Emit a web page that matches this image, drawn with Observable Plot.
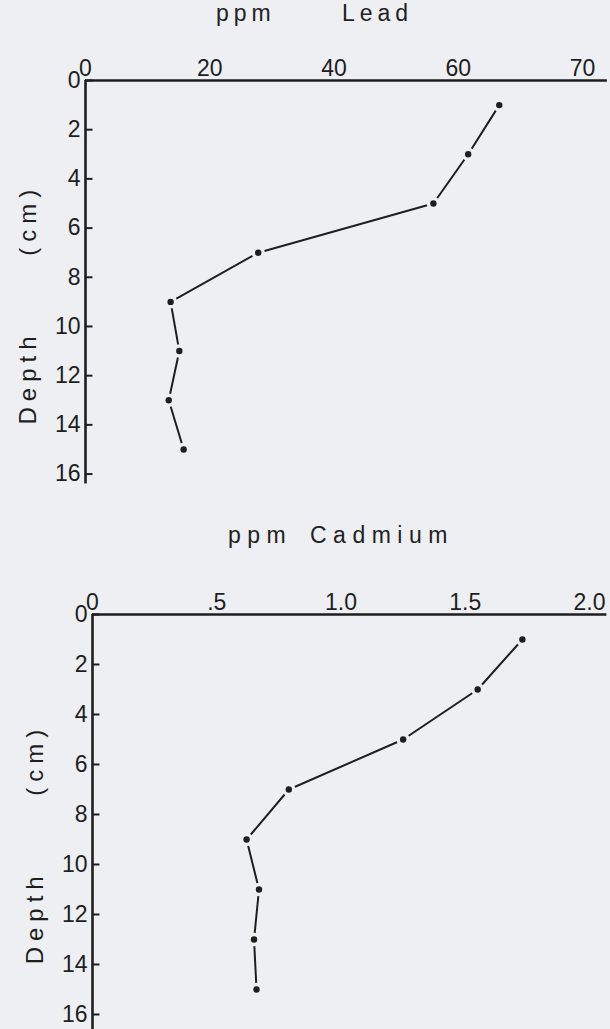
<!DOCTYPE html>
<html><head><meta charset="utf-8">
<script src="https://cdn.jsdelivr.net/npm/d3@7"></script>
<script src="https://cdn.jsdelivr.net/npm/@observablehq/plot@0.6"></script>
<style>
body{margin:0;background:#edeff2;width:610px;height:1029px;overflow:hidden;font-family:"Liberation Sans",Arial,sans-serif;color:#222}
.title{position:relative;height:26px;font-size:23px;letter-spacing:5px;line-height:26px}
#t2{letter-spacing:6.5px}
.title span{position:absolute;top:0}
svg{display:block}
</style></head><body>
<div class="title" id="t1"></div>
<div id="c1"></div>
<div class="title" id="t2"></div>
<div id="c2"></div>
<script>
const depths = [1, 3, 5, 7, 9, 11, 13, 15];
const leadPpm = [63.3, 60.8, 56.0, 27.8, 13.7, 15.1, 13.4, 15.8];
const cadmiumPpm = [1.73, 1.55, 1.25, 0.79, 0.62, 0.67, 0.65, 0.66];
const depthTicks = [0, 2, 4, 6, 8, 10, 12, 14, 16];
const leadTicks = [0, 20, 40, 60, 70];
const cadmiumTicks = [0, 0.5, 1.0, 1.5, 2.0];
const cadmiumTickLabels = ["0", ".5", "1.0", "1.5", "2.0"];
const leadTitle = ["ppm", "Lead"];
const cadmiumTitle = ["ppm", "Cadmium"];
const yLabel = "Depth (cm)";

const ink = "#1e1e1e", bg = "#edeff2";

function title(id, words, lefts) {
  const el = document.getElementById(id);
  words.forEach((w, i) => {
    const s = document.createElement("span");
    s.textContent = w;
    s.style.left = lefts[i] + "px";
    el.appendChild(s);
  });
}
title("t1", leadTitle, [216, 342]);
title("t2", cadmiumTitle, [228, 310]);

function chart(o) {
  const data = depths.map((d, i) => ({depth: d, ppm: o.values[i]}));
  const p = Plot.plot({
    width: 610,
    height: o.height,
    marginLeft: o.marginLeft,
    marginRight: o.marginRight,
    marginTop: o.marginTop,
    marginBottom: o.marginBottom,
    style: {fontSize: "23px", fontFamily: "'Liberation Sans', Arial, sans-serif", color: ink, background: "transparent", overflow: "visible"},
    x: {type: "linear", domain: o.xDomain, axis: "top", ticks: o.ticks, tickFormat: o.tickFormat, tickSize: 0, tickPadding: 5, label: null},
    y: {type: "linear", domain: o.yDomain, reverse: true, ticks: depthTicks, tickSize: 0, tickPadding: 5, label: null},
    marks: [
      Plot.ruleY([0], {x1: 0, x2: o.xEnd, stroke: ink, strokeWidth: 2.6}),
      Plot.ruleX([0], {stroke: ink, strokeWidth: 2.6}),
      Plot.ruleY(depthTicks, {y: d => d, x1: 0, x2: o.tickLen, stroke: ink, strokeWidth: 2}),
      Plot.line(data, {x: "ppm", y: "depth", stroke: ink, strokeWidth: 2}),
      Plot.dot(data, {x: "ppm", y: "depth", r: 3.2, fill: ink, stroke: bg, strokeWidth: 7, paintOrder: "stroke"}),
      Plot.text([yLabel], {text: d => d, frameAnchor: "left", textAnchor: "middle", rotate: -90, dx: -57, dy: 22, fontSize: 24, fill: ink})
    ]
  });
  d3.select(p).selectAll("g[aria-label=text] text").attr("letter-spacing", "6px").attr("word-spacing", "62px");
  return p;
}

// Lead: the printed axis is broken — 0, 20, 40, 60 and 70 are evenly spaced (piecewise linear)
document.getElementById("c1").appendChild(chart({
  values: leadPpm,
  xDomain: leadTicks, xEnd: 72,
  marginLeft: 85, marginRight: 28,
  ticks: leadTicks, tickFormat: d => String(d),
  yDomain: [0, 16.4], marginTop: 54, marginBottom: 38.6,
  height: 496, tickLen: 1.2
}));
document.getElementById("c2").appendChild(chart({
  values: cadmiumPpm,
  xDomain: [0, 2.07], xEnd: 2.07,
  marginLeft: 92, marginRight: 3.6,
  ticks: cadmiumTicks, tickFormat: d => cadmiumTickLabels[cadmiumTicks.indexOf(d)],
  yDomain: [0, 16.6], marginTop: 66, marginBottom: 0,
  height: 481, tickLen: 0.03
}));
</script>
</body></html>
